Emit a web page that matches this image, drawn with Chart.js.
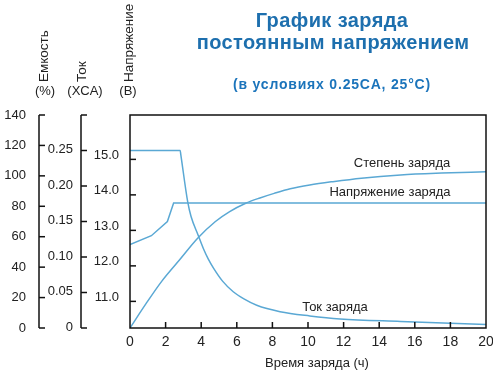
<!DOCTYPE html>
<html>
<head>
<meta charset="utf-8">
<script src="https://cdn.jsdelivr.net/npm/chart.js@4"></script>
<style>
  body { margin: 0; background: #fff; }
  canvas { display: block; }
</style>
</head>
<body>
<canvas id="chargeChart" width="493" height="372"></canvas>
<script>
// charge curve data (time in hours)
const capTime = [0, 0.9, 1.8, 2.8, 3.8, 4.8, 5.6, 6.5, 7.3, 8.1, 9, 10.1, 11.4, 13, 15.2, 17.5, 20];
const capValues = [0, 16, 31, 45, 59, 70, 76.5, 82, 85.5, 88.5, 91.5, 94, 96.2, 98.5, 100.6, 101.8, 102.7];

const curTime = [0, 2.82, 2.85, 3.24, 3.43, 3.84, 4.12, 4.4, 4.7, 5.2, 5.8, 6.4, 7.12, 8.43, 10.1, 11.8, 15.2, 20];
const curValues = [0.25, 0.25, 0.245, 0.178, 0.157, 0.13, 0.112, 0.097, 0.084, 0.066, 0.051, 0.041, 0.032, 0.023, 0.017, 0.0127, 0.0092, 0.005];

const voltTime = [0, 1.2, 2.1, 2.45, 20];
const voltValues = [12.6, 12.85, 13.25, 13.77, 13.77];

const voltTicks = [11, 12, 13, 14, 15];

const lineColor = '#5aa8d4';
const textColor = '#222';
const blue = '#1d6fae';
const fontFamily = '"Liberation Sans", Arial, sans-serif';
Chart.defaults.font.family = fontFamily;

const zip = (xs, ys) => xs.map((x, i) => ({ x: x, y: ys[i] }));

const decorPlugin = {
  id: 'decor',
  afterDraw(chart) {
    const { ctx, chartArea: a, scales } = chart;
    ctx.save();
    ctx.strokeStyle = '#111';
    ctx.lineWidth = 1.5;
    const line = (x1, y1, x2, y2) => {
      ctx.beginPath(); ctx.moveTo(x1, y1); ctx.lineTo(x2, y2); ctx.stroke();
    };
    ctx.strokeRect(a.left, a.top, a.right - a.left, a.bottom - a.top);

    scales.x.ticks.forEach(t => {
      if (t.value > 0 && t.value < 20) {
        const px = scales.x.getPixelForValue(t.value);
        line(px, a.bottom, px, a.bottom - 6);
      }
    });
    scales.yVolt.ticks.forEach(t => {
      const py = scales.yVolt.getPixelForValue(t.value);
      line(a.left, py, a.left + 6, py);
    });
    ['yCur', 'yCap'].forEach(id => {
      const s = scales[id];
      const ax = s.right - 7;
      line(ax, s.getPixelForValue(s.max), ax, s.getPixelForValue(s.min));
      s.ticks.forEach(t => {
        const py = s.getPixelForValue(t.value);
        line(ax, py, ax + 6, py);
      });
    });

    // titles
    ctx.fillStyle = blue;
    ctx.textAlign = 'center';
    ctx.textBaseline = 'middle';
    ctx.letterSpacing = '0.4px';
    ctx.font = 'bold 20px ' + fontFamily;
    ctx.fillText('График заряда', 332, 21);
    ctx.fillText('постоянным напряжением', 333, 43);
    ctx.fillStyle = '#1b74bb';
    ctx.letterSpacing = '0.8px';
    ctx.font = 'bold 14px ' + fontFamily;
    ctx.fillText('(в условиях 0.25CA, 25°C)', 332, 85);
    ctx.letterSpacing = '0px';

    // axis titles
    ctx.fillStyle = textColor;
    ctx.font = '13px ' + fontFamily;
    ctx.fillText('(%)', 45, 91);
    ctx.fillText('(XCA)', 85, 91);
    ctx.fillText('(В)', 128, 91);
    ctx.fillText('Время заряда (ч)', 317, 363);

    ctx.font = '13.5px ' + fontFamily;
    ctx.textAlign = 'left';
    [['Емкость', 44], ['Ток', 82], ['Напряжение', 129]].forEach(([txt, x]) => {
      ctx.save();
      ctx.translate(x, 82);
      ctx.rotate(-Math.PI / 2);
      ctx.fillText(txt, 0, 0);
      ctx.restore();
    });

    // curve labels
    ctx.textAlign = 'center';
    ctx.font = '13px ' + fontFamily;
    ctx.fillText('Степень заряда', 402, 163);
    ctx.fillText('Напряжение заряда', 390, 192);
    ctx.fillText('Ток заряда', 335, 307);
    ctx.restore();
  }
};

new Chart(document.getElementById('chargeChart'), {
  type: 'line',
  data: {
    datasets: [
      {
        label: 'Степень заряда',
        data: zip(capTime, capValues),
        yAxisID: 'yCap',
        cubicInterpolationMode: 'monotone'
      },
      {
        label: 'Ток заряда',
        data: zip(curTime, curValues),
        yAxisID: 'yCur',
        cubicInterpolationMode: 'monotone'
      },
      {
        label: 'Напряжение заряда',
        data: zip(voltTime, voltValues),
        yAxisID: 'yVolt',
        tension: 0
      }
    ]
  },
  options: {
    responsive: false,
    animation: false,
    devicePixelRatio: 1,
    layout: { padding: { top: 115, right: 7, bottom: 0, left: 0 } },
    elements: {
      line: { borderColor: lineColor, borderWidth: 1.5 },
      point: { radius: 0 }
    },
    plugins: {
      legend: { display: false },
      tooltip: { enabled: false }
    },
    scales: {
      x: {
        type: 'linear',
        min: 0,
        max: 20,
        grid: { display: false, drawTicks: false },
        border: { display: false },
        ticks: { stepSize: 2, padding: 6, color: textColor, font: { size: 14 } },
        afterFit: s => { s.height = 44; s.paddingLeft = 0; s.paddingRight = 0; }
      },
      yVolt: {
        position: 'left',
        weight: 0,
        min: 10.25,
        max: 16.25,
        grid: { display: false, drawTicks: false },
        border: { display: false },
        afterBuildTicks: s => { s.ticks = voltTicks.map(v => ({ value: v })); },
        ticks: {
          padding: 11,
          labelOffset: -4,
          color: textColor,
          font: { size: 13 },
          callback: v => v.toFixed(1)
        },
        afterFit: s => { s.width = 42; }
      },
      yCur: {
        position: 'left',
        weight: 1,
        min: 0,
        max: 0.3,
        grid: { display: false, drawTicks: false },
        border: { display: false },
        ticks: {
          stepSize: 0.05,
          padding: 15,
          labelOffset: -1,
          color: textColor,
          font: { size: 13 },
          callback: v => (v === 0 ? '0' : (v > 0.26 ? '' : v.toFixed(2)))
        },
        afterFit: s => { s.width = 42; }
      },
      yCap: {
        position: 'left',
        weight: 2,
        min: 0,
        max: 140,
        grid: { display: false, drawTicks: false },
        border: { display: false },
        ticks: {
          stepSize: 20,
          padding: 20,
          color: textColor,
          font: { size: 13 }
        },
        afterFit: s => { s.width = 46; s.paddingTop = 0; s.paddingBottom = 0; }
      }
    }
  },
  plugins: [decorPlugin]
});
</script>
</body>
</html>
